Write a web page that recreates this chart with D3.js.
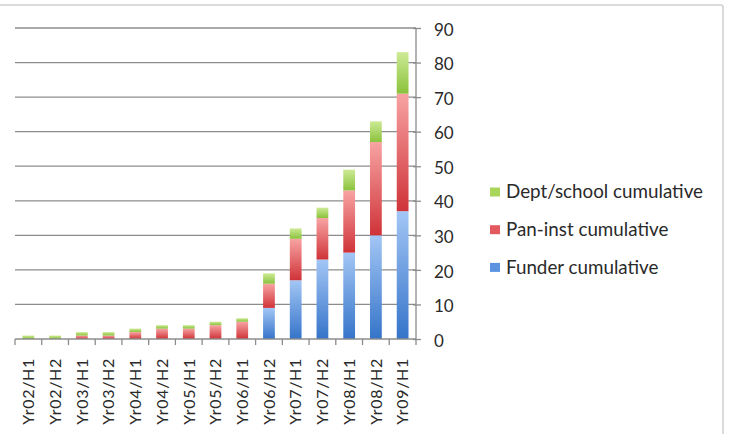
<!DOCTYPE html>
<html><head><meta charset="utf-8">
<script src="https://cdn.jsdelivr.net/npm/d3@7"></script>
<style>body{margin:0;background:#fff}svg{display:block}</style>
</head><body>
<script>
const categories = ["Yr02/H1","Yr02/H2","Yr03/H1","Yr03/H2","Yr04/H1","Yr04/H2","Yr05/H1","Yr05/H2","Yr06/H1","Yr06/H2","Yr07/H1","Yr07/H2","Yr08/H1","Yr08/H2","Yr09/H1"];
const funder = [0,0,0,0,0,0,0,0,0,9,17,23,25,30,37];
const panInst = [0,0,1,1,2,3,3,4,5,7,12,12,18,27,34];
const deptSchool = [1,1,1,1,1,1,1,1,1,3,3,3,6,6,12];
const seriesNames = ["Funder cumulative","Pan-inst cumulative","Dept/school cumulative"];
const yTicks = [0,10,20,30,40,50,60,70,80,90];

const W = 741, H = 434;
const svg = d3.select("body").append("svg").attr("width", W).attr("height", H);
const font = "Lato, 'Open Sans', sans-serif";

// frame
svg.append("rect").attr("x", -2).attr("y", 5).attr("width", 725).attr("height", 440)
  .attr("fill", "none").attr("stroke", "#cfcfcf").attr("stroke-width", 1.5).attr("rx", 2);

const x = d3.scaleBand().domain(categories).range([15, 416]).paddingInner(0.56).paddingOuter(0.28);
const y = d3.scaleLinear().domain([0, 90]).range([339, 28]);

const defs = svg.append("defs");
const grads = [
  {id: "gBlue", top: "#a3c6f5", bot: "#3574c9"},
  {id: "gRed", top: "#f8a3a3", bot: "#cf3338"},
  {id: "gGreen", top: "#cdea95", bot: "#8ac23c"}
];
grads.forEach(g => {
  const lg = defs.append("linearGradient").attr("id", g.id).attr("x1", 0).attr("y1", 0).attr("x2", 0).attr("y2", 1);
  lg.append("stop").attr("offset", "0%").attr("stop-color", g.top);
  lg.append("stop").attr("offset", "100%").attr("stop-color", g.bot);
});
const legendColors = ["#5b93e0", "#e35a5e", "#a8d65a"];

// gridlines
svg.append("g").selectAll("line").data(yTicks.filter(d => d > 0)).join("line")
  .attr("x1", 15).attr("x2", 416).attr("y1", d => y(d)).attr("y2", d => y(d))
  .attr("stroke", "#8c8c8c").attr("stroke-width", 1.3);

// stacked bars
const rows = categories.map((c, i) => ({cat: c, f: funder[i], p: panInst[i], d: deptSchool[i]}));
const stack = d3.stack().keys(["f", "p", "d"])(rows);
svg.append("g").selectAll("g").data(stack).join("g")
  .attr("fill", (s, i) => `url(#${grads[i].id})`)
  .selectAll("rect").data(s => s.filter(d => d[1] > d[0])).join("rect")
  .attr("x", d => x(d.data.cat))
  .attr("width", x.bandwidth())
  .attr("y", d => y(d[1]))
  .attr("height", d => y(d[0]) - y(d[1]));

// right y axis
const yAxis = d3.axisRight(y).tickValues(yTicks).tickSize(5).tickPadding(13);
const ga = svg.append("g").attr("transform", "translate(416,0)").call(yAxis);
ga.select(".domain").attr("stroke", "#8c8c8c").attr("stroke-width", 1.3).attr("d", "M0,339V28");
ga.selectAll(".tick line").attr("stroke", "#8c8c8c").attr("stroke-width", 1.3).attr("x1", -3);
ga.selectAll(".tick text").attr("font-family", font).attr("font-size", 17).attr("fill", "#2a2a2a")
  .attr("dy", "0.42em");

// x axis
const xAxis = d3.axisBottom(x).tickSize(0).tickPadding(0);
const gx = svg.append("g").attr("transform", "translate(0,339)").call(xAxis);
gx.select(".domain").attr("stroke", "#8c8c8c").attr("stroke-width", 1.3).attr("d", "M15,0H416");
gx.selectAll(".tick text")
  .attr("font-family", font).attr("font-size", 16).attr("fill", "#2a2a2a")
  .attr("letter-spacing", 0.7)
  .attr("text-anchor", "end").attr("dy", "0.36em")
  .attr("transform", "translate(0,19) rotate(-90)").attr("x", 0).attr("y", 0);
// band boundary ticks
gx.append("g").selectAll("line").data(d3.range(categories.length + 1)).join("line")
  .attr("x1", i => 15 + i * x.step()).attr("x2", i => 15 + i * x.step())
  .attr("y1", 0).attr("y2", 6).attr("stroke", "#8c8c8c").attr("stroke-width", 1.3);

// legend
const legendOrder = [2, 1, 0];
const lg = svg.append("g").selectAll("g").data(legendOrder).join("g")
  .attr("transform", (d, i) => `translate(490,${191.5 + i * 37.7})`);
lg.append("rect").attr("x", 0).attr("y", -4).attr("width", 10).attr("height", 9)
  .attr("fill", d => legendColors[d]);
lg.append("text").attr("x", 16).attr("y", 0).attr("dy", "0.36em")
  .attr("font-family", font).attr("font-size", 18.8).attr("fill", "#2a2a2a")
  .text(d => seriesNames[d]);
</script>
</body></html>
